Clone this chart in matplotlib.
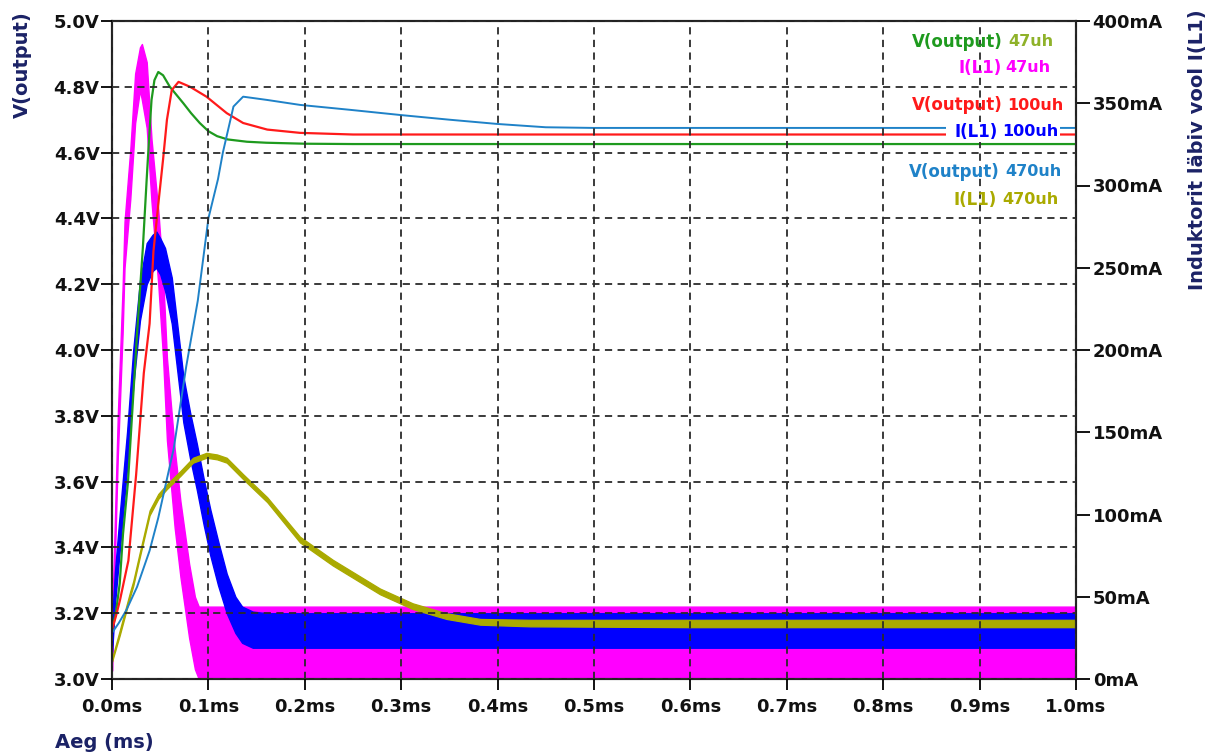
import matplotlib
matplotlib.use("Agg")
import matplotlib.pyplot as plt

plt.rcParams["font.family"] = ["DejaVu Sans"]
plt.rcParams["font.weight"] = "bold"

# ---- output voltage traces (time in ms, volts) ----
t_v47 = [0.000, 0.004, 0.008, 0.0114, 0.0166, 0.0218, 0.026, 0.032, 0.036, 0.038,
         0.041, 0.044, 0.048, 0.053, 0.060, 0.067, 0.074, 0.082, 0.091, 0.100,
         0.109, 0.120, 0.140, 0.160, 0.200, 0.250, 1.000]
v47 = [3.15, 3.20, 3.29, 3.44, 3.60, 3.85, 4.05, 4.31, 4.52, 4.62,
       4.76, 4.82, 4.845, 4.835, 4.80, 4.775, 4.75, 4.72, 4.69, 4.665,
       4.65, 4.64, 4.633, 4.630, 4.627, 4.626, 4.626]

t_v100 = [0.000, 0.004, 0.0083, 0.017, 0.025, 0.033, 0.039, 0.043, 0.049, 0.053,
          0.057, 0.062, 0.069, 0.081, 0.098, 0.119, 0.136, 0.161, 0.195, 0.250, 1.000]
v100 = [3.15, 3.19, 3.24, 3.36, 3.62, 3.93, 4.08, 4.30, 4.47, 4.58,
        4.70, 4.79, 4.815, 4.80, 4.77, 4.72, 4.69, 4.67, 4.66, 4.655, 4.655]

t_v470 = [0.000, 0.007, 0.015, 0.026, 0.039, 0.048, 0.064, 0.077, 0.089, 0.100,
          0.110, 0.115, 0.126, 0.136, 0.161, 0.195, 0.247, 0.300, 0.350, 0.400,
          0.450, 0.500, 1.000]
v470 = [3.14, 3.17, 3.21, 3.28, 3.39, 3.49, 3.70, 3.95, 4.15, 4.40,
        4.52, 4.60, 4.74, 4.77, 4.76, 4.745, 4.73, 4.714, 4.70, 4.687,
        4.677, 4.675, 4.675]

# ---- inductor current ripple envelopes (time in ms, mA) ----
t_i47 = [0.000, 0.001, 0.006, 0.011, 0.013, 0.019, 0.024, 0.029, 0.031, 0.036,
         0.041, 0.048, 0.053, 0.057, 0.065, 0.071, 0.080, 0.086, 0.090, 1.000]
i47_lo = [5, 32, 135, 210, 250, 292, 338, 358, 352, 335,
          290, 240, 195, 145, 92, 62, 25, 6, 0, 0]
i47_hi = [25, 55, 160, 238, 278, 322, 368, 384, 386, 375,
          328, 285, 245, 195, 140, 108, 70, 50, 44, 44]

t_i100 = [0.000, 0.003, 0.008, 0.0156, 0.022, 0.029, 0.036, 0.042, 0.046, 0.050,
          0.055, 0.062, 0.068, 0.074, 0.081, 0.088, 0.095, 0.102, 0.110, 0.119,
          0.128, 0.135, 0.146, 0.160, 1.000]
i100_lo = [15, 45, 78, 128, 178, 218, 240, 248, 250, 246,
           236, 216, 186, 156, 134, 115, 94, 75, 57, 40,
           28, 22, 19, 19, 19]
i100_hi = [35, 65, 100, 150, 200, 242, 265, 270, 272, 268,
           262, 244, 214, 184, 162, 143, 122, 103, 84, 64,
           50, 44, 41, 40, 40]

t_i470 = [0.000, 0.008, 0.019, 0.022, 0.029, 0.039, 0.048, 0.057, 0.071, 0.084,
          0.098, 0.109, 0.119, 0.136, 0.161, 0.195, 0.229, 0.278, 0.312, 0.347,
          0.382, 0.434, 0.600, 1.000]
i470_lo = [10.5, 26.5, 50.5, 56.5, 74.5, 99.5, 109.5, 115.5, 123.5, 131.5,
           134.5, 133.5, 131.5, 121.5, 107.5, 83, 69, 51.5, 42.5, 36.5,
           33, 32, 31.5, 31.5]
i470_hi = [12.5, 29.5, 53.5, 59.5, 77.5, 102.5, 112.5, 118.5, 126.5, 134.5,
           137.5, 136.5, 134.5, 124.5, 110.5, 86.5, 72.5, 55, 46, 40,
           36.5, 36, 36, 36]

# ---- axis ticks and legend ----
x_ticks = [0.0, 0.1, 0.2, 0.3, 0.4, 0.5, 0.6, 0.7, 0.8, 0.9, 1.0]
v_ticks = [3.0, 3.2, 3.4, 3.6, 3.8, 4.0, 4.2, 4.4, 4.6, 4.8, 5.0]
i_ticks = [0, 50, 100, 150, 200, 250, 300, 350, 400]

C_G = "#1e9a1e"
C_R = "#ff1a1a"
C_LB = "#1f82c8"
C_M = "#ff00ff"
C_B = "#0000ff"
C_O = "#aaaa00"
C_LAB = "#1b2266"
C_TXT = "#111111"

W, H = 1213, 756
fig = plt.figure(figsize=(W / 100, H / 100), dpi=100)
x0, x1, y0, y1 = 112, 1076, 21, 679
ax = fig.add_axes([x0 / W, 1 - y1 / H, (x1 - x0) / W, (y1 - y0) / H])
ax2 = ax.twinx()
ax.set_zorder(ax2.get_zorder() + 1)
ax.patch.set_visible(False)

# currents on the right-hand scale
ax2.fill_between(t_i47, i47_lo, i47_hi, color=C_M, lw=1.0, edgecolor=C_M)
ax2.fill_between(t_i100, i100_lo, i100_hi, color=C_B, lw=1.0, edgecolor=C_B)
ax2.fill_between(t_i470, i470_lo, i470_hi, color=C_O, lw=0.9, edgecolor=C_O)

# voltages on the left-hand scale
ax.plot(t_v47, v47, color=C_G, lw=1.6)
ax.plot(t_v100, v100, color=C_R, lw=1.6)
ax.plot(t_v470, v470, color=C_LB, lw=1.4)

ax.set_xlim(0, 1.0)
ax.set_ylim(3.0, 5.0)
ax2.set_ylim(0, 400)
ax.set_xticks(x_ticks)
ax.set_xticklabels([f"{v:.1f}ms" for v in x_ticks])
ax.set_yticks(v_ticks)
ax.set_yticklabels([f"{v:.1f}V" for v in v_ticks])
ax2.set_yticks(i_ticks)
ax2.set_yticklabels([f"{v}mA" for v in i_ticks])

ax.set_axisbelow(False)
ax.grid(True, color="#2b2b2b", lw=1.3, linestyle=(0, (4, 3)))

for a in (ax, ax2):
    for s in a.spines.values():
        s.set_linewidth(1.5)
        s.set_color("#222222")
ax.tick_params(axis="y", direction="out", length=8, width=1.3, pad=1,
               labelsize=13, labelcolor=C_TXT)
ax.tick_params(axis="x", direction="out", length=8, width=1.3, pad=6,
               labelsize=13, labelcolor=C_TXT)
ax2.tick_params(axis="y", direction="out", length=10, width=1.3, pad=2,
                labelsize=13, labelcolor=C_TXT)


def px(x, y):
    return x / W, 1 - y / H


fig.text(*px(22, 11), "V(output)", rotation=90, ha="center", va="top",
         fontsize=14, color=C_LAB)
fig.text(*px(1197, 9), "Induktorit läbiv vool I(L1)", rotation=90,
         ha="center", va="top", fontsize=14, color=C_LAB)
fig.text(*px(55, 748), "Aeg (ms)", ha="left", va="baseline",
         fontsize=14, color=C_LAB)

legend_rows = [
    ("V(output)", "47uh", 1003, 1008, 42, C_G, "#8fb22a", False),
    ("I(L1)", "47uh", 1002, 1005, 68, C_M, C_M, False),
    ("V(output)", "100uh", 1003, 1007, 105, C_R, C_R, False),
    ("I(L1)", "100uh", 998, 1002, 132, C_B, C_B, True),
    ("V(output)", "470uh", 1000, 1005, 172, C_LB, C_LB, False),
    ("I(L1)", "470uh", 997, 1002, 200, C_O, C_O, False),
]
for name, val, xn, xv, yy, cn, cv, boxed in legend_rows:
    if boxed:
        fig.patches.append(plt.Rectangle(px(946, 142), 114 / W, 20 / H,
                                         transform=fig.transFigure,
                                         facecolor="white", edgecolor="none",
                                         zorder=5))
    fig.text(*px(xn, yy), name, ha="right", va="center", fontsize=12,
             color=cn, zorder=6)
    fig.text(*px(xv, yy), val, ha="left", va="center", fontsize=11.5,
             color=cv, zorder=6)

fig.savefig("out.png", dpi=100)
